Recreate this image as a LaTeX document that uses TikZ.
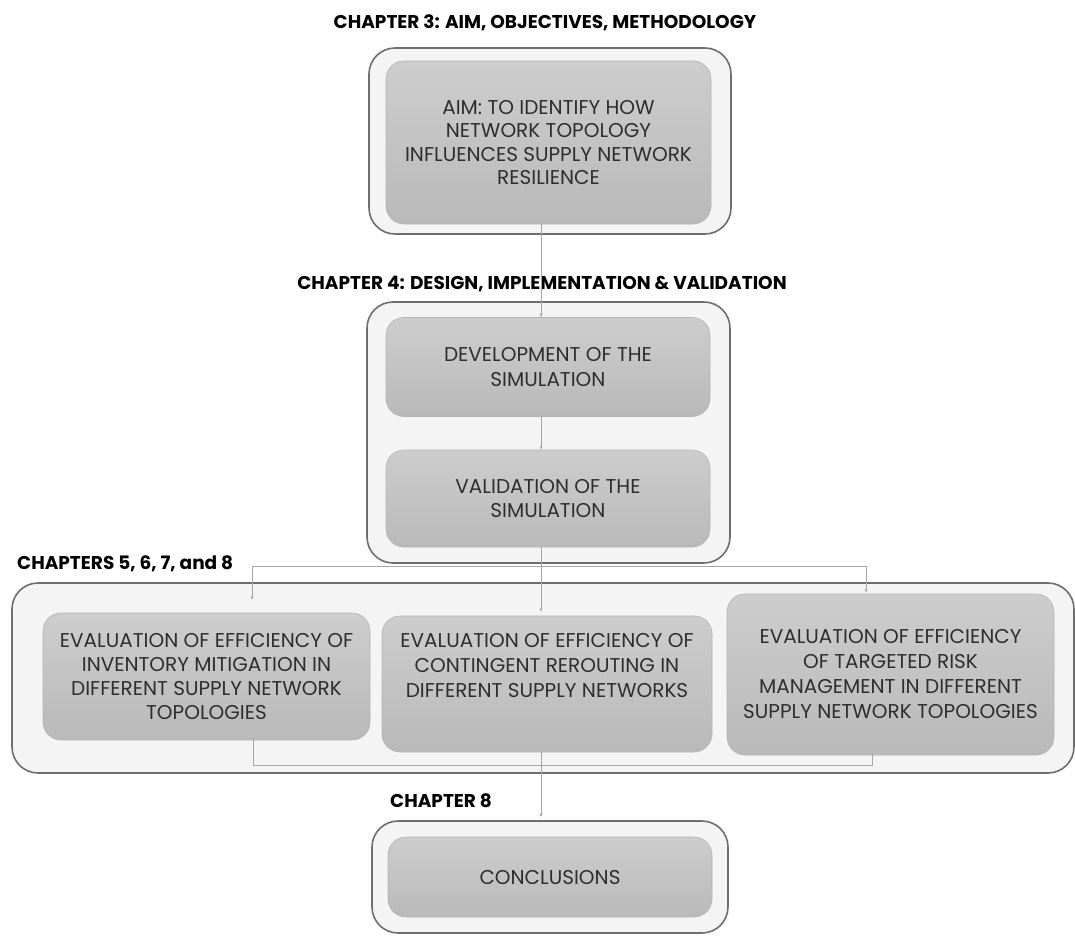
\documentclass[tikz,border=0pt]{standalone}
\usepackage{fontspec}
\setmainfont{Poppins}
\usetikzlibrary{arrows.meta,calc}
\definecolor{outerfill}{HTML}{F4F4F4}
\definecolor{outerline}{HTML}{6E6E6E}
\definecolor{innertop}{HTML}{CDCDCD}
\definecolor{innerbot}{HTML}{B9B9B9}
\definecolor{innerline}{HTML}{B4B4B4}
\definecolor{linkgray}{HTML}{A6A6A6}
\definecolor{bodytext}{HTML}{2E2E2E}
\tikzset{
  chapterbox/.style={draw=outerline, line width=1.6pt, fill=outerfill,
    rounded corners=26pt, inner sep=0pt},
  taskbox/.style={draw=innerline, line width=0.6pt, top color=innertop,
    bottom color=innerbot, rounded corners=18pt, inner sep=0pt, align=center,
    text=bodytext, font=\fontsize{20}{24.3}\selectfont},
  tasktext/.style={inner sep=0pt, align=center, text=bodytext,
    font=\fontsize{20}{25}\selectfont},
  heading/.style={font=\bfseries\fontsize{18.5}{22}\selectfont, text=black, inner sep=0pt},
  link/.style={draw=linkgray, line width=0.7pt},
  linkarrow/.style={link, -{Stealth[length=4pt,width=3pt]}},
}
\begin{document}
\begin{tikzpicture}[x=1pt,y=-1pt]
  \useasboundingbox (0,0) rectangle (1075,936);

  % chapter 3
  \node[heading] (h3) at (545,23) {CHAPTER 3: AIM, OBJECTIVES, METHODOLOGY};
  \node[chapterbox, minimum width=362pt, minimum height=186pt] (c3) at (550,141) {};
  \node[taskbox, minimum width=325pt, minimum height=163pt,
        font=\fontsize{20}{23.5}\selectfont] (aim) at (548.5,142.5)
    {AIM: TO IDENTIFY HOW\\NETWORK TOPOLOGY\\INFLUENCES SUPPLY NETWORK\\RESILIENCE};

  % chapter 4
  \node[heading] (h4) at (542,284) {CHAPTER 4: DESIGN, IMPLEMENTATION \& VALIDATION};
  \node[chapterbox, minimum width=363pt, minimum height=261pt] (c4) at (548.5,432.5) {};
  \node[taskbox, minimum width=324pt, minimum height=99pt] (dev) at (548,367)
    {DEVELOPMENT OF THE\\SIMULATION};
  \node[taskbox, minimum width=324pt, minimum height=97pt] (val) at (548,498.5)
    {VALIDATION OF THE\\SIMULATION};

  % chapters 5 to 8
  \node[heading, anchor=west] (h5) at (17,564) {CHAPTERS 5, 6, 7, and 8};
  \node[chapterbox, minimum width=1062pt, minimum height=190pt] (c5) at (543,678) {};
  \node[taskbox, minimum width=327pt, minimum height=127pt] (inv) at (206.5,676.5)
    {EVALUATION OF EFFICIENCY OF\\INVENTORY MITIGATION IN\\DIFFERENT SUPPLY NETWORK\\TOPOLOGIES};
  \node[taskbox, minimum width=330pt, minimum height=136pt] (rer) at (547,684) {};
  \node[tasktext, anchor=north] (rertext) at ($(rer.north)+(0,17)$)
    {EVALUATION OF EFFICIENCY OF\\CONTINGENT REROUTING IN\\DIFFERENT SUPPLY NETWORKS};
  \node[taskbox, minimum width=327pt, minimum height=161pt,
        font=\fontsize{20}{25}\selectfont] (trm) at (890.5,674.5)
    {EVALUATION OF EFFICIENCY\\OF TARGETED RISK\\MANAGEMENT IN DIFFERENT\\SUPPLY NETWORK TOPOLOGIES};

  % chapter 8
  \node[heading, anchor=west] (h8) at (390,801) {CHAPTER 8};
  \node[chapterbox, minimum width=356pt, minimum height=112pt] (c8) at (550,877) {};
  \node[taskbox, minimum width=324pt, minimum height=80pt] (conc) at (550,877) {CONCLUSIONS};

  % routing points of the connectors
  \coordinate (spine) at (541,0);
  \coordinate (splitL) at (252,566);
  \coordinate (splitR) at (866,566);
  \coordinate (joinL) at (253,765);
  \coordinate (joinR) at (872,765);

  % connectors
  \draw[linkarrow] (aim.south -| spine) -- (dev.north -| spine);
  \draw[linkarrow] (dev.south -| spine) -- (val.north -| spine);
  \draw[linkarrow, shorten >=4pt] (val.south -| spine) -- (rer.north -| spine);
  \draw[link] (splitL) -- (splitR);
  \draw[linkarrow, shorten >=13pt] (splitL) -- (inv.north -| splitL);
  \draw[linkarrow, shorten >=1pt] (splitR) -- (trm.north -| splitR);
  \draw[link] (inv.south -| joinL) -- (joinL) -- (joinR) -- (trm.south -| joinR);
  \draw[linkarrow, shorten >=3pt] (rer.south -| spine) -- (c8.north -| spine);
\end{tikzpicture}
\end{document}
